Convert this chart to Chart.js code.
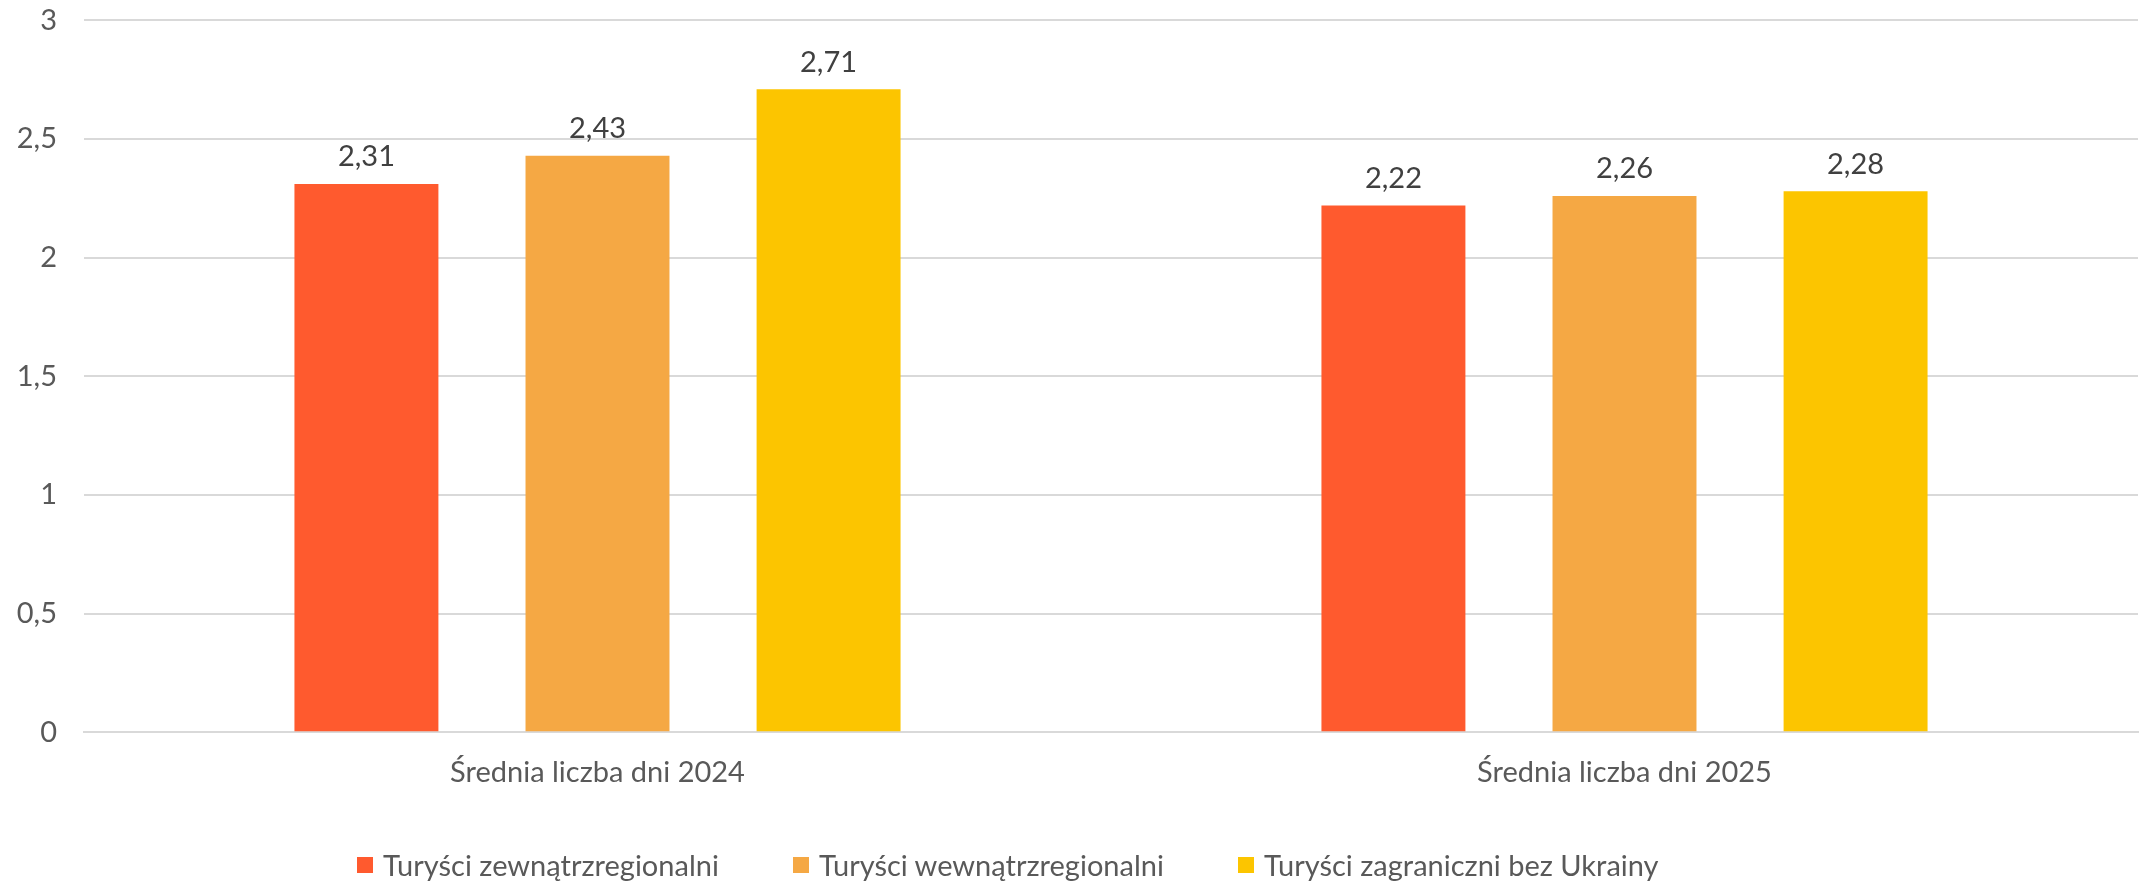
<!DOCTYPE html>
<html>
<head>
<meta charset="utf-8">
<script src="https://cdn.jsdelivr.net/npm/chart.js@4.4.1/dist/chart.umd.min.js"></script>
<style>
  html, body { margin: 0; padding: 0; background: #fff; }
  #wrap { position: relative; width: 2146px; height: 882px; }
  #legend { position: absolute; left: 357px; top: 846px; display: flex; font-family: Lato, sans-serif; font-size: 29px; color: #595959; line-height: 38px; }
  #legend .item { display: flex; align-items: center; margin-right: 74px; white-space: nowrap; }
  #legend .box { width: 16px; height: 16px; margin-right: 10px; }
</style>
</head>
<body>
<div id="wrap">
  <canvas id="chart" width="2146" height="882"></canvas>
  <div id="legend"></div>
</div>
<script>
'use strict';

var categories = ['Średnia liczba dni 2024', 'Średnia liczba dni 2025'];
var seriesNames = ['Turyści zewnątrzregionalni', 'Turyści wewnątrzregionalni', 'Turyści zagraniczni bez Ukrainy'];
var zewnatrz = [2.31, 2.22];
var wewnatrz = [2.43, 2.26];
var zagranica = [2.71, 2.28];
var colors = ['#FF5A2E', '#F5A844', '#FCC500'];

function fmt(v) {
  return String(v).replace('.', ',');
}

// etykiety wartości nad słupkami
var valueLabels = {
  id: 'valueLabels',
  afterDatasetsDraw: function (chart) {
    var ctx = chart.ctx;
    ctx.save();
    ctx.font = '29px Lato, sans-serif';
    ctx.fillStyle = '#404040';
    ctx.textAlign = 'center';
    ctx.textBaseline = 'middle';
    chart.data.datasets.forEach(function (ds, i) {
      chart.getDatasetMeta(i).data.forEach(function (bar, j) {
        ctx.fillText(fmt(ds.data[j]), bar.x, bar.y - 27);
      });
    });
    ctx.restore();
  }
};

var allSeries = [zewnatrz, wewnatrz, zagranica];

var myChart = new Chart(document.getElementById('chart'), {
  type: 'bar',
  data: {
    labels: categories,
    datasets: allSeries.map(function (vals, i) {
      return {
        label: seriesNames[i],
        data: vals,
        backgroundColor: colors[i],
        categoryPercentage: 0.675,
        barPercentage: 0.623
      };
    })
  },
  options: {
    responsive: false,
    animation: false,
    layout: { padding: { left: 0, right: 8, top: 3, bottom: 77 } },
    plugins: {
      legend: { display: false },
      tooltip: { enabled: false }
    },
    scales: {
      x: {
        grid: { display: false },
        border: { color: '#d9d9d9', width: 2 },
        ticks: { color: '#595959', font: { family: 'Lato', size: 29 }, padding: 15 }
      },
      y: {
        min: 0,
        max: 3,
        afterFit: function (scale) { scale.width = 84; },
        ticks: {
          stepSize: 0.5,
          color: '#595959',
          font: { family: 'Lato', size: 29 },
          padding: 3,
          callback: function (v) { return fmt(v); }
        },
        grid: { color: '#d9d9d9', lineWidth: 2, drawTicks: true, tickLength: 24, tickColor: 'rgba(0,0,0,0)' },
        border: { display: false }
      }
    }
  },
  plugins: [valueLabels]
});

var legendEl = document.getElementById('legend');
myChart.data.datasets.forEach(function (ds) {
  var item = document.createElement('div');
  item.className = 'item';
  var box = document.createElement('span');
  box.className = 'box';
  box.style.background = ds.backgroundColor;
  var txt = document.createElement('span');
  txt.textContent = ds.label;
  item.appendChild(box);
  item.appendChild(txt);
  legendEl.appendChild(item);
});
</script>
</body>
</html>
